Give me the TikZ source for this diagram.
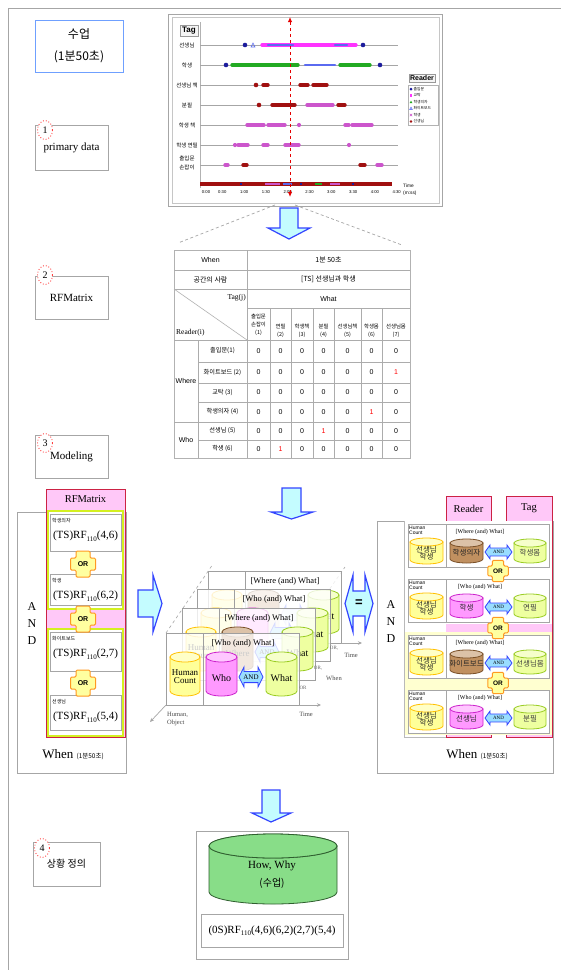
\documentclass[tikz,border=0pt]{standalone}
\usepackage{fontspec}
\setmainfont{Liberation Serif}
\newfontfamily\kr{Noto Sans CJK KR}
\newfontfamily\sansf{Liberation Sans}
\usetikzlibrary{arrows.meta,shapes.geometric}
\definecolor{arrfill}{HTML}{C4FCFF}
\definecolor{arrdraw}{HTML}{3344FF}
\definecolor{pinkf}{HTML}{FFC8F8}
\definecolor{redb}{HTML}{CC2244}
\definecolor{limeb}{HTML}{D4F020}
\definecolor{orb}{HTML}{FF9922}
\definecolor{ory}{HTML}{FFFFA0}
\definecolor{dred}{HTML}{A01010}
\definecolor{navy}{HTML}{1C1C9C}
\definecolor{mag}{HTML}{FF33FF}
\definecolor{grn}{HTML}{22AA22}
\definecolor{ltb}{HTML}{5A6AF0}
\definecolor{purp}{HTML}{CC55CC}
\definecolor{hcf}{HTML}{FFFF99}
\definecolor{hcd}{HTML}{FFC000}
\definecolor{whof}{HTML}{FF99FF}
\definecolor{whod}{HTML}{CC22CC}
\definecolor{whatf}{HTML}{EEFFA0}
\definecolor{whatd}{HTML}{99CC22}
\definecolor{brf}{HTML}{C09060}
\definecolor{brd}{HTML}{7A5028}
\definecolor{andf}{HTML}{99DDFF}
\definecolor{bigf}{HTML}{88DD88}
\definecolor{bigd}{HTML}{2F5F2F}
\definecolor{ylw}{HTML}{FFFFD0}
\definecolor{titleb}{HTML}{6FA0FF}
\tikzset{
  K/.style 2 args={font=\kr\fontsize{#1}{#2}\selectfont},
  S/.style 2 args={font=\sansf\fontsize{#1}{#2}\selectfont},
  R/.style 2 args={font=\rmfamily\fontsize{#1}{#2}\selectfont},
  stepbox/.style={draw=gray!70, line width=0.8, fill=white},
  num/.style={ellipse, draw=red!75, dotted, line width=0.9, fill=white, minimum width=15, minimum height=19, inner sep=0pt, font=\rmfamily\fontsize{10}{10}\selectfont},
  mk/.style={line width=3.4, line cap=round},
  bigarrow/.style={fill=arrfill, draw=arrdraw, line width=1.2, line join=miter},
  gline/.style={draw=gray!65, line width=0.7},
}
% cylinder: x1,y1,x2,y2,ry,fill,draw
\newcommand\drawcyl[7]{%
  \filldraw[fill=#6,draw=#7,line width=0.8] ({#1},{(#2)+(#5)}) -- ({#1},{(#4)-(#5)})
     arc[start angle=180,end angle=0,x radius={((#3)-(#1))/2},y radius={#5}]
     -- ({#3},{(#2)+(#5)}) -- cycle;
  \filldraw[fill=#6!55!white,draw=#7,line width=0.8] ({((#1)+(#3))/2},{(#2)+(#5)}) ellipse [x radius={((#3)-(#1))/2},y radius={#5}];
}
% AND arrow shape: x1,y1,x2,y2
\newcommand\andshape[4]{%
  \filldraw[fill=andf,draw=arrdraw,line width=0.8]
   ({#1},{((#2)+(#4))/2}) -- ({(#1)+5},{#2}) -- ({(#1)+5},{(#2)+0.22*((#4)-(#2))}) -- ({(#3)-5},{(#2)+0.22*((#4)-(#2))}) -- ({(#3)-5},{#2}) -- ({#3},{((#2)+(#4))/2}) -- ({(#3)-5},{#4}) -- ({(#3)-5},{(#4)-0.22*((#4)-(#2))}) -- ({(#1)+5},{(#4)-0.22*((#4)-(#2))}) -- ({(#1)+5},{#4}) -- cycle;
}
% AND arrow: x1,y1,x2,y2,name,fontsize
\newcommand\andarrow[6]{%
  \andshape{#1}{#2}{#3}{#4}
  \node[R={#6}{#6},inner sep=0pt] (#5) at ({((#1)+(#3))/2},{((#2)+(#4))/2}) {AND};
}
% OR cross: cx, cy, scale, name, fontsize
\newcommand\orcross[5]{%
 \filldraw[draw=orb,fill=ory,line width=1,rounded corners=1.2]
 ({(#1)-7*(#3)},{(#2)-13*(#3)}) -- ({(#1)+7*(#3)},{(#2)-13*(#3)}) -- ({(#1)+7*(#3)},{(#2)-6*(#3)}) -- ({(#1)+12.5*(#3)},{(#2)-6*(#3)}) -- ({(#1)+12.5*(#3)},{(#2)+6*(#3)}) -- ({(#1)+7*(#3)},{(#2)+6*(#3)}) -- ({(#1)+7*(#3)},{(#2)+13*(#3)}) -- ({(#1)-7*(#3)},{(#2)+13*(#3)}) -- ({(#1)-7*(#3)},{(#2)+6*(#3)}) -- ({(#1)-12.5*(#3)},{(#2)+6*(#3)}) -- ({(#1)-12.5*(#3)},{(#2)-6*(#3)}) -- ({(#1)-7*(#3)},{(#2)-6*(#3)}) -- cycle;
 \node[font=\sansf\bfseries\fontsize{#5}{#5}\selectfont,inner sep=0pt] (#4) at (#1,#2) {OR};
}
% cube frame: x, y, label, type(1 who / 2 where), name, show inner texts (1/0)
\newcommand\cubeframe[6]{%
  \filldraw[draw=gray!75,line width=0.8,fill=white,fill opacity=0.8] (#1,#2) rectangle ({(#1)+133},{(#2)+72});
  \draw[gray!75,line width=0.8] ({(#1)+37},#2) -- ({(#1)+37},{(#2)+72});
  \node[R={8.5}{9},inner sep=0pt] (#5lab) at ({(#1)+77},{(#2)+10}) {#3};
  \drawcyl{(#1)+4}{(#2)+19}{(#1)+34}{(#2)+63}{5}{hcf}{hcd}
  \ifnum#4=1
    \drawcyl{(#1)+40}{(#2)+19}{(#1)+71}{(#2)+63}{5}{whof}{whod}
  \else
    \drawcyl{(#1)+40}{(#2)+19}{(#1)+71}{(#2)+63}{5}{brf}{brd}
  \fi
  \andshape{(#1)+73}{(#2)+34}{(#1)+97}{(#2)+54}
  \drawcyl{(#1)+100}{(#2)+19}{(#1)+131}{(#2)+63}{5}{whatf}{whatd}
  \node[R={10}{10},inner sep=0pt] (#5wt) at ({(#1)+115.5},{(#2)+45}) {What};
  \ifnum#6=1
    \node[R={9}{9},align=center,inner sep=0pt] (#5hc) at ({(#1)+19},{(#2)+44}) {Human\\[-1pt]Count};
    \node[R={7}{7},inner sep=0pt] (#5and) at ({(#1)+85},{(#2)+44}) {AND};
    \ifnum#4=1
      \node[R={10}{10},inner sep=0pt] (#5rd) at ({(#1)+55.5},{(#2)+45}) {Who};
    \else
      \node[R={9}{9},inner sep=0pt] (#5rd) at ({(#1)+55.5},{(#2)+45}) {Where};
    \fi
  \fi
}
% right panel row: yt, label, rfill, rdraw, rtext, tagtext, name
\newcommand\rrow[7]{%
 \filldraw[draw=gray!70,line width=0.8,fill=white] (408,#1) rectangle (549,{(#1)+43});
 \draw[gray!70,line width=0.8] (446,#1) -- (446,{(#1)+43});
 \drawcyl{410}{(#1)+14}{443}{(#1)+40}{4}{hcf}{hcd}
 \node[K={7.5}{7.5},align=center,text=black!85,inner sep=0pt] (#7hc) at (426.5,{(#1)+29}) {선생님\\학생};
 \node[S={5}{4.5},align=left,anchor=north west,inner sep=0pt] (#7hl) at (409,{(#1)+2}) {Human\\Count};
 \node[R={6}{6},inner sep=0pt] (#7lab) at (480,{(#1)+8}) {#2};
 \drawcyl{450}{(#1)+15}{483}{(#1)+39}{4}{#3}{#4}
 \node[K={7.5}{7.5},inner sep=0pt,text=black!85] (#7rd) at (466.5,{(#1)+29}) {#5};
 \andarrow{485}{(#1)+21}{512}{(#1)+35}{#7and}{5}
 \drawcyl{514}{(#1)+15}{546}{(#1)+39}{4}{whatf}{whatd}
 \node[K={7.5}{7.5},inner sep=0pt,text=black!75] (#7tg) at (530,{(#1)+29}) {#6};
}
% left RF box: yt, yb, label, args, name
\newcommand\rfbox[5]{%
 \filldraw[draw=gray!70,line width=0.8,fill=white] (50,#1) rectangle (121,#2);
 \node[K={5}{5},anchor=west,inner sep=0pt] (#5l) at (52,{(#1)+7}) {#3};
 \node[R={11}{11},inner sep=0pt] (#5m) at (85.5,{(#1)+22}) {(TS)RF\raisebox{-2.5pt}{\fontsize{7}{7}\selectfont 110}#4};
}
\begin{document}
\begin{tikzpicture}[x=1pt,y=-1pt]
\useasboundingbox (0,0) rectangle (561,970);
\fill[white] (0,0) rectangle (561,970);
\draw[gray!70,line width=1] (561,8) -- (8,8) -- (8,970);

% ---------- left step labels ----------
\node[draw=titleb,line width=1,minimum width=88,minimum height=52,align=center,K={12}{22}] (title) at (79,46) {수업\\(1분50초)};
\node[stepbox,minimum width=73,minimum height=45,R={11}{11}] (s1) at (71.5,147.5) {primary data};
\node[num] (n1) at (45,130) {1};
\node[stepbox,minimum width=73,minimum height=43,R={11}{11}] (s2) at (71.5,297.5) {RFMatrix};
\node[num] (n2) at (45,275) {2};
\node[stepbox,minimum width=73,minimum height=43,R={11}{11}] (s3) at (71.5,456.5) {\raisebox{-4pt}{Modeling}};
\node[num] (n3) at (45,443) {3};
\node[stepbox,minimum width=67,minimum height=44,K={10}{10}] (s4) at (66.5,864) {\raisebox{-3pt}{상황 정의}};
\node[num] (n4) at (42,848) {4};

% ---------- chart ----------
\draw[gray!70,line width=0.8] (168,14) rectangle (442,206);
\draw[gray!45,line width=0.6] (172,17) rectangle (439,203);
\draw[gray!60] (200,22) -- (200,188);
\node[draw=gray!80,fill=gray!8,font=\sansf\bfseries\fontsize{8}{8}\selectfont,inner sep=1.5pt,minimum width=18,minimum height=11] (tag) at (189,31) {Tag};
\foreach \yy in {45,65,85,105,125,145,165} \draw[gray!70,line width=0.6] (200,\yy) -- (398,\yy);
\node[K={5.5}{6.5},inner sep=0pt] (r1) at (187,45) {선생님};
\node[K={5.5}{6.5},inner sep=0pt] (r2) at (187,65) {학생};
\node[K={5.5}{6.5},inner sep=0pt] (r3) at (187,85) {선생님 책};
\node[K={5.5}{6.5},inner sep=0pt] (r4) at (187,105) {분필};
\node[K={5.5}{6.5},inner sep=0pt] (r5) at (187,125) {학생 책};
\node[K={5.5}{6.5},inner sep=0pt] (r6) at (187,145) {학생 연필};
\node[K={5.5}{9},inner sep=0pt,align=center] (r7) at (187,163) {출입문\\손잡이};
% markers
\draw[mk,mag] (262,45)--(356,45);
\draw[mk,ltb,line width=2.6] (268,45)--(293,45);
\draw[mk,ltb,line width=2.6] (335,45)--(347,45);
\fill[navy] (245,45) circle (2.3); \fill[navy] (363,45) circle (2.3);
\draw[ltb,line width=0.6] (251,47)--(253,43)--(255,47)--cycle;
\fill[navy] (226,65) circle (2.3); \fill[navy] (380,65) circle (2.3);
\draw[mk,grn] (232,65)--(298,65);
\draw[mk,ltb,line width=2.6] (305,65)--(335,65);
\draw[mk,grn] (340,65)--(370,65);
\fill[dred] (256,85) circle (2.3);
\draw[mk,dred] (263,85)--(268,85); \draw[mk,dred] (300,85)--(308,85); \draw[mk,dred] (313,85)--(327,85);
\fill[dred] (259,105) circle (2.3);
\draw[mk,dred] (272,105)--(295,105); \draw[mk,purp] (307,105)--(333,105); \draw[mk,dred] (338,105)--(345,105);
\draw[mk,purp] (247,125)--(264,125); \draw[mk,purp] (268,125)--(285,125); \fill[purp] (299,125) circle (2.1);
\draw[mk,purp] (345,125)--(349,125); \draw[mk,purp] (352,125)--(372,125);
\fill[purp] (235,145) circle (2.1); \draw[mk,purp] (238,145)--(248,145); \draw[mk,purp] (263,145)--(268,145);
\draw[mk,purp] (285,145)--(299,145); \fill[purp] (349,145) circle (2.1);
\draw[mk,purp] (225,165)--(228,165); \draw[mk,dred] (243,165)--(247,165); \draw[mk,dred] (360,165)--(365,165); \draw[mk,purp] (377,165)--(382,165);
\draw[dred,line width=4] (200,184)--(392,184);
\draw[purp,line width=2] (265,184)--(280,184);
\draw[ltb,line width=2] (283,184)--(292,184);
\draw[grn,line width=2] (315,184)--(322,184);
\draw[purp,line width=1.5] (330,184)--(340,184);
\draw[navy,line width=1.2] (240,184)--(242,184) (300,184)--(302,184) (352,184)--(354,184);
\foreach \lab [count=\i from 0] in {0:00,0:30,1:00,1:30,2:00,2:30,3:00,3:30,4:00,4:30}
  \node[S={4.2}{4.5},inner sep=0pt] (ax\i) at ({\i==0 ? 206 : 200.5+21.8*\i},192) {\lab};
\node[S={4.8}{7},align=left,anchor=west,inner sep=0pt] (timelab) at (403,190) {Time\\(m:ss)};
\coordinate (rtop) at (290,17);
\coordinate (rbot) at (290,197);
\draw[red!90!black,dashed,line width=1,{Latex[length=5pt,width=4.5pt]}-{Latex[length=5pt,width=4.5pt]}] (rbot) -- (rtop);
% legend
\node[draw=gray!80,fill=gray!8,font=\sansf\bfseries\fontsize{7}{7}\selectfont,inner sep=1.3pt] (reader) at (422,78) {Reader};
\draw[gray!60,fill=white] (408,85) rectangle (438,125);
\fill[navy] (411,87.5) -- (412.5,89) -- (411,90.5) -- (409.5,89) -- cycle;
\fill[mag] (409.8,94.3) rectangle (412.2,96.7);
\fill[grn] (409.6,103.2) -- (412.4,103.2) -- (411,100.6) -- cycle;
\draw[ltb,line width=0.5] (409.6,109.7) -- (412.4,109.7) -- (411,107.1) -- cycle;
\draw[purp,line width=0.6] (409.8,113.8)--(412.2,116.2) (409.8,116.2)--(412.2,113.8);
\fill[dred] (411,121.5) circle (1.3);
\node[K={3.8}{4},anchor=west,inner sep=0pt] (lg1) at (413.5,89) {출입문};
\node[K={3.8}{4},anchor=west,inner sep=0pt] (lg2) at (413.5,95.5) {교탁};
\node[K={3.8}{4},anchor=west,inner sep=0pt] (lg3) at (413.5,102) {학생의자};
\node[K={3.8}{4},anchor=west,inner sep=0pt] (lg4) at (413.5,108.5) {화이트보드};
\node[K={3.8}{4},anchor=west,inner sep=0pt] (lg5) at (413.5,115) {학생};
\node[K={3.8}{4},anchor=west,inner sep=0pt] (lg6) at (413.5,121.5) {선생님};

% ---------- zoom lines + arrow ----------
\draw[gray!70,dashed,dash pattern=on 3pt off 2.5pt,line width=0.7] (275,205)--(178,243);
\draw[gray!70,dashed,dash pattern=on 3pt off 2.5pt,line width=0.7] (295,205)--(402,245);
\filldraw[bigarrow] (280,208)--(298,208)--(298,228)--(310,228)--(289,239)--(268,228)--(280,228)--cycle;

% ---------- table ----------
\filldraw[draw=gray!60,fill=white,line width=0.7] (174,250) rectangle (410,458);
\draw[gline] (174,270)--(410,270) (174,289)--(410,289) (247,308)--(410,308) (174,340)--(410,340)
  (198,362)--(410,362) (198,383)--(410,383) (198,402)--(410,402) (174,422)--(410,422) (198,440)--(410,440)
  (247,250)--(247,458) (198,340)--(198,458);
\foreach \xx in {270,291,313,334,361,382} \draw[gline] (\xx,308)--(\xx,458);
\draw[gray!60,line width=0.6] (174,289)--(247,340);
\node[S={7}{7},inner sep=0pt] (tw) at (210.5,260) {When};
\node[K={7}{7},inner sep=0pt] (tw2) at (328.5,260) {1분 50초};
\node[K={7}{7},inner sep=0pt] (tp) at (210.5,279.5) {공간의 사람};
\node[K={7}{7},inner sep=0pt] (tp2) at (328.5,279.5) {[TS] 선생님과 학생};
\node[R={7.5}{7.5},anchor=east,inner sep=0pt] (ttag) at (246,298) {Tag(j)};
\node[R={7.5}{7.5},anchor=west,inner sep=0pt] (trd) at (176,333) {Reader(i)};
\node[S={7}{7},inner sep=0pt] (twhat) at (328.5,298.5) {What};
\node[K={5.4}{8},align=center,inner sep=0pt] (h1) at (258.5,324.5) {출입문\\손잡이\\(1)};
\node[K={5.4}{8},align=center,inner sep=0pt] (h2) at (280.5,331) {연필\\(2)};
\node[K={5.4}{8},align=center,inner sep=0pt] (h3) at (302,331) {학생책\\(3)};
\node[K={5.4}{8},align=center,inner sep=0pt] (h4) at (323.5,331) {분필\\(4)};
\node[K={5.4}{8},align=center,inner sep=0pt] (h5) at (347.5,331) {선생님책\\(5)};
\node[K={5.4}{8},align=center,inner sep=0pt] (h6) at (371.5,331) {학생몸\\(6)};
\node[K={5.4}{8},align=center,inner sep=0pt] (h7) at (396,331) {선생님몸\\(7)};
\node[S={7}{7},inner sep=0pt] (twhere) at (186,381) {Where};
\node[S={7}{7},inner sep=0pt] (twho) at (186,440) {Who};
\node[K={6.2}{7},inner sep=0pt] (rn1) at (222.5,351) {출입문(1)};
\node[K={6.2}{7},inner sep=0pt] (rn2) at (222.5,372.5) {화이트보드 (2)};
\node[K={6.2}{7},inner sep=0pt] (rn3) at (222.5,392.5) {교탁 (3)};
\node[K={6.2}{7},inner sep=0pt] (rn4) at (222.5,412) {학생의자 (4)};
\node[K={6.2}{7},inner sep=0pt] (rn5) at (222.5,431) {선생님 (5)};
\node[K={6.2}{7},inner sep=0pt] (rn6) at (222.5,449) {학생 (6)};
\foreach \rr/\cols in {1/{1,2,3,4,5,6,7},2/{1,2,3,4,5,6},3/{1,2,3,4,5,6,7},4/{1,2,3,4,5,7},5/{1,2,3,5,6,7},6/{1,3,4,5,6,7}}{
  \foreach \cc in \cols {
    \pgfmathsetmacro\tabx{{258.5,280.5,302,323.5,347.5,371.5,396}[\cc-1]}
    \pgfmathsetmacro\taby{{351,372.5,392.5,412,431,449}[\rr-1]}
    \node[S={7}{7},inner sep=0pt] (z\rr\cc) at (\tabx,\taby) {0};
  }
}
\node[S={7}{7},inner sep=0pt,text=red] (z27) at (396,372.5) {1};
\node[S={7}{7},inner sep=0pt,text=red] (z46) at (371.5,412) {1};
\node[S={7}{7},inner sep=0pt,text=red] (z54) at (323.5,431) {1};
\node[S={7}{7},inner sep=0pt,text=red] (z62) at (280.5,449) {1};

% ---------- arrow down 2 ----------
\filldraw[bigarrow] (282,488)--(301,488)--(301,512)--(313,512)--(291.5,519)--(271,512)--(282,512)--cycle;

% ---------- left panel ----------
\filldraw[draw=gray!70,line width=0.8,fill=white] (17,512) rectangle (126,773);
\filldraw[draw=redb,line width=1,fill=pinkf] (46,489) rectangle (125,737);
\node[R={10.5}{10.5},inner sep=0pt] (rfm) at (85.5,499.5) {RFMatrix};
\filldraw[draw=limeb,line width=1.2,fill=white] (48,511) rectangle (123,609);
\filldraw[draw=limeb,line width=1.2,fill=white] (48,629) rectangle (123,736);
\rfbox{514}{551}{학생의자}{(4,6)}{b1}
\rfbox{574}{605}{학생}{(6,2)}{b2}
\rfbox{632}{671}{화이트보드}{(2,7)}{b3}
\rfbox{695}{730}{선생님}{(5,4)}{b4}
\orcross{83}{564}{1}{or1}{7}
\orcross{83}{619}{1}{or2}{7}
\orcross{83}{683}{1}{or3}{7}
\node[R={12}{12},inner sep=0pt] (la) at (32,607) {A};
\node[R={12}{12},inner sep=0pt] (ln) at (32,624) {N};
\node[R={12}{12},inner sep=0pt] (ld) at (32,641) {D};
\node[R={13}{13},inner sep=0pt] (lwhen) at (73,755) {When {\kr\fontsize{6.5}{6.5}\selectfont (1분50초)}};

% right arrow
\filldraw[bigarrow] (138,590)--(153,590)--(153,575)--(162,603.5)--(153,632)--(153,617)--(138,617)--cycle;

% ---------- center cube ----------
\coordinate (cA1) at (166,633); \coordinate (cA2) at (213,564);
\coordinate (cB1) at (299,633); \coordinate (cB2) at (345,567);
\draw[gray!70,dashed,line width=0.6] (cA1) -- (cA2);
\draw[gray!70,dashed,line width=0.6] (cB1) -- (cB2);
\cubeframe{208}{571}{[Where (and) What]}{2}{f4}{0}
\cubeframe{197}{589}{[Who (and) What]}{1}{f3}{0}
\cubeframe{182}{608}{[Where (and) What]}{2}{f2}{1}
\cubeframe{166}{633}{[Who (and) What]}{1}{f1}{1}
\coordinate (ax1s) at (166,705); \coordinate (ax1e) at (150,722);
\coordinate (ax2s) at (299,705); \coordinate (ax2e) at (321,705);
\coordinate (ax3s) at (341,643); \coordinate (ax3e) at (362,643);
\draw[gray!70,line width=0.7,-{Stealth[length=4pt,width=3.5pt]}] (ax1s) -- (ax1e);
\draw[gray!70,line width=0.7,-{Stealth[length=4pt,width=3.5pt]}] (ax2s) -- (ax2e);
\draw[gray!70,line width=0.7,-{Stealth[length=4pt,width=3.5pt]}] (ax3s) -- (ax3e);
\node[R={6.5}{8},align=left,anchor=west,inner sep=0pt,text=black!70] (hobj) at (167,719) {Human,\\Object};
\node[R={6.5}{7},inner sep=0pt,text=black!70] (tm1) at (306,714) {Time};
\node[R={6.5}{7},inner sep=0pt,text=black!70] (tm2) at (351,655) {Time};
\node[R={6.5}{7},inner sep=0pt,text=black!70] (wh1) at (334,678) {When};
\node[R={5}{5},inner sep=0pt,text=black!60] (o1) at (303,688) {OR};
\node[R={5}{5},inner sep=0pt,text=black!60] (o2) at (318,668) {OR,};
\node[R={5}{5},inner sep=0pt,text=black!60] (o3) at (334,648) {OR,};

% = arrow
\filldraw[bigarrow] (345,603.5)--(353,575)--(353,591)--(365,591)--(365,575)--(373,603.5)--(365,632)--(365,616)--(353,616)--(353,632)--cycle;
\node[font=\sansf\bfseries\fontsize{13}{13}\selectfont,inner sep=0pt] (eq) at (359,603) {=};

% ---------- right panel ----------
\filldraw[draw=gray!70,line width=0.8,fill=white] (377,521) rectangle (553,773);
\filldraw[draw=redb,line width=1,fill=pinkf] (446,496) rectangle (491,737);
\filldraw[draw=redb,line width=1,fill=pinkf] (506,496) rectangle (552,737);
\node[R={10.5}{10.5},inner sep=0pt] (hreader) at (468.5,508.5) {Reader};
\node[R={10.5}{10.5},inner sep=0pt] (htag) at (529,508.5) {Tag};
\fill[white] (404,521) rectangle (552,624);
\fill[white] (404,624) rectangle (446,632);
\fill[pinkf] (446,624) rectangle (552,632);
\fill[ylw] (404,632) rectangle (552,735);
\draw[gray!55,line width=0.6] (404,521) -- (404,737) -- (446,737);
\rrow{524}{[Where (and) What]}{brf}{brd}{학생의자}{학생몸}{q1}
\rrow{579}{[Who (and) What]}{whof}{whod}{학생}{연필}{q2}
\rrow{635}{[Where (and) What]}{brf}{brd}{화이트보드}{선생님몸}{q3}
\rrow{690}{[Who (and) What]}{whof}{whod}{선생님}{분필}{q4}
\orcross{498}{571}{0.82}{ro1}{6.5}
\orcross{498}{628}{0.82}{ro2}{6.5}
\orcross{498}{683}{0.82}{ro3}{6.5}
\node[R={12}{12},inner sep=0pt] (ra) at (391,605) {A};
\node[R={12}{12},inner sep=0pt] (rn) at (391,622) {N};
\node[R={12}{12},inner sep=0pt] (rd) at (391,639) {D};
\node[R={13}{13},inner sep=0pt] (rwhen) at (477,755) {When {\kr\fontsize{6.5}{6.5}\selectfont (1분50초)}};

% ---------- bottom ----------
\filldraw[bigarrow] (262,790)--(280,790)--(280,813)--(291,813)--(271,822)--(252,813)--(262,813)--cycle;
\filldraw[draw=gray!70,line width=0.8,fill=white] (196,831) rectangle (348,959);
\drawcyl{209}{834}{337}{904}{12}{bigf}{bigd}
\filldraw[fill=bigf,draw=bigd,line width=0.8] (273,846) ellipse [x radius=64, y radius=12];
\node[R={11}{18},align=center,inner sep=0pt] (howwhy) at (272,875) {How, Why\\{\kr\fontsize{10}{10}\selectfont (수업)}};
\node[draw=gray!70,line width=0.8,minimum width=142,minimum height=33,R={11}{11}] (formula) at (272,930.5) {(0S)RF\raisebox{-2.5pt}{\fontsize{7}{7}\selectfont 110}(4,6)(6,2)(2,7)(5,4)};
\end{tikzpicture}
\end{document}
